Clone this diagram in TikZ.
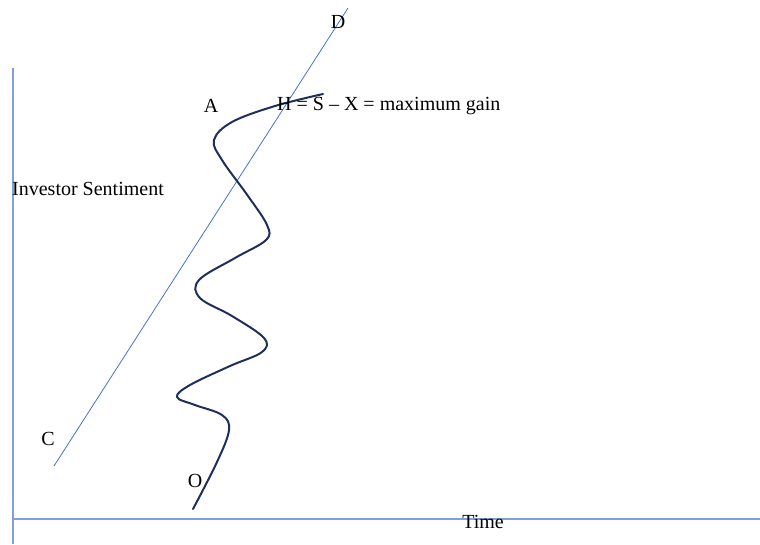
\documentclass[tikz,border=0pt]{standalone}
\usepackage{fontspec}
\setmainfont{Liberation Serif}
\usetikzlibrary{positioning}
\definecolor{axisblue}{RGB}{130,160,215}
\definecolor{lineblue}{RGB}{70,115,200}
\definecolor{curvenavy}{RGB}{28,48,90}
\tikzset{
  axis/.style={axisblue, line width=1.4pt},
  trend/.style={lineblue, line width=0.8pt},
  wave/.style={curvenavy, line width=2pt, line cap=round},
  lbl/.style={font=\fontsize{20}{22}\selectfont, inner sep=0pt},
}

\begin{document}
\begin{tikzpicture}[x=1pt, y=-1pt]
        \useasboundingbox (0,0) rectangle (760,544);
        % axes
        \coordinate (ytop) at (13,68);
        \coordinate (ybot) at (13,544);
        \coordinate (xleft) at (13,519);
        \coordinate (xright) at (760,519);
        \draw[axis] (ytop) -- (ybot);
        \draw[axis] (xleft) -- (xright);
        % trend line C--D
        \coordinate (c) at (54,466);
        \coordinate (d) at (348,8);
        \draw[trend] (c) -- (d);
        % sentiment path
        \draw[wave] plot[smooth, tension=0.6] coordinates {
          (193,509) (217,462) (229,430) (222,415) (195,405) (177,397)
          (190,385) (230,366) (262,352) (264,338) (232,316) (200,298)
          (199,280) (235,258) (266,240) (267,225) (248,196) (222,160)
          (214,140) (232,122) (275,106) (323,94)};
        % labels
        \node[lbl] (labD) at (338,22) {D};
        \node[lbl] (labA) at (211,106) {A};
        \node[lbl, anchor=west] (labH) at (277,106) {H = S -- X = maximum gain};
        \node[lbl, anchor=west] (labY) at (12,189) {Investor Sentiment};
        \node[lbl] (labC) at (48,439) {C};
        \node[lbl] (labO) at (195,481) {O};
        \node[lbl] (labT) at (483,522) {Time};
\end{tikzpicture}
\end{document}
